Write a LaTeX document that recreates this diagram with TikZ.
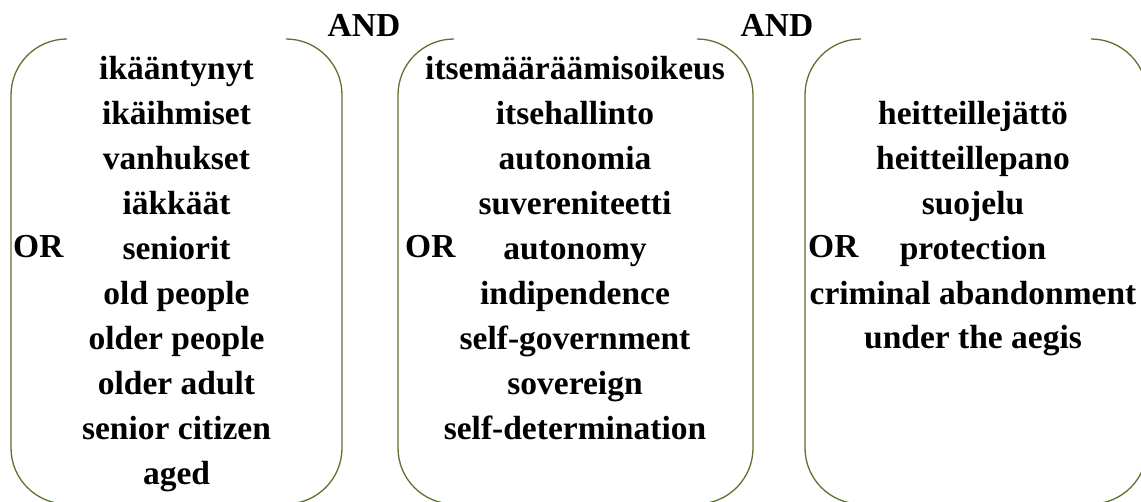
\documentclass[tikz,border=0pt]{standalone}
\usepackage{fontspec}
\setmainfont{Liberation Serif}
\usepackage{xcolor}
\usetikzlibrary{positioning}
\definecolor{bracketgreen}{RGB}{94,116,46}

\begin{document}
\begin{tikzpicture}[x=1pt, y=1pt, font=\bfseries\fontsize{33.5}{40}\selectfont]
        \tikzset{
            term/.style={inner sep=0pt, text height=23pt, text depth=8pt, anchor=base},
            op/.style={inner sep=0pt, anchor=base},
            brk/.style={draw=bracketgreen, line width=1.3pt}
        }
        \useasboundingbox (0,0) rectangle (1141,501);
        \clip (0,0) rectangle (1141,501);

        % Bracket pairs
        \draw[brk] (67,462) arc[start angle=90, end angle=180, radius=56] -- (11,53) arc[start angle=180, end angle=270, radius=56];
        \draw[brk] (286,462) arc[start angle=90, end angle=0, radius=56] -- (342,53) arc[start angle=0, end angle=-90, radius=56];
        \draw[brk] (454,462) arc[start angle=90, end angle=180, radius=56] -- (398,53) arc[start angle=180, end angle=270, radius=56];
        \draw[brk] (697,462) arc[start angle=90, end angle=0, radius=56] -- (753,53) arc[start angle=0, end angle=-90, radius=56];
        \draw[brk] (861,462) arc[start angle=90, end angle=180, radius=56] -- (805,53) arc[start angle=180, end angle=270, radius=56];
        \draw[brk] (1091,462) arc[start angle=90, end angle=0, radius=56] -- (1147,53) arc[start angle=0, end angle=-90, radius=56];

        % Operators
        \node[op] (and1) at (364,464) {AND};
        \node[op] (and2) at (777,464) {AND};
        \node[op, anchor=base west] (or1) at (13,243) {OR};
        \node[op, anchor=base west] (or2) at (405,243) {OR};
        \node[op, anchor=base west] (or3) at (808,243) {OR};

        % Older people
        \node[term] (old1) at (176.5,421) {ikääntynyt};
        \node[term, below=13.5pt of old1] (old2) {ikäihmiset};
        \node[term, below=13.5pt of old2] (old3) {vanhukset};
        \node[term, below=13.5pt of old3] (old4) {iäkkäät};
        \node[term, below=13.5pt of old4] (old5) {seniorit};
        \node[term, below=13.5pt of old5] (old6) {old people};
        \node[term, below=13.5pt of old6] (old7) {older people};
        \node[term, below=13.5pt of old7] (old8) {older adult};
        \node[term, below=13.5pt of old8] (old9) {senior citizen};
        \node[term, below=13.5pt of old9] (old10) {aged};

        % Autonomy
        \node[term] (auto1) at (575,421) {itsemääräämisoikeus};
        \node[term, below=13.5pt of auto1] (auto2) {itsehallinto};
        \node[term, below=13.5pt of auto2] (auto3) {autonomia};
        \node[term, below=13.5pt of auto3] (auto4) {suvereniteetti};
        \node[term, below=13.5pt of auto4] (auto5) {autonomy};
        \node[term, below=13.5pt of auto5] (auto6) {indipendence};
        \node[term, below=13.5pt of auto6] (auto7) {self-government};
        \node[term, below=13.5pt of auto7] (auto8) {sovereign};
        \node[term, below=13.5pt of auto8] (auto9) {self-determination};

        % Abandonment and protection
        \node[term] (aban1) at (973,376.5) {heitteillejättö};
        \node[term, below=13.5pt of aban1] (aban2) {heitteillepano};
        \node[term, below=13.5pt of aban2] (aban3) {suojelu};
        \node[term, below=13.5pt of aban3] (aban4) {protection};
        \node[term, below=13.5pt of aban4] (aban5) {criminal abandonment};
        \node[term, below=13.5pt of aban5] (aban6) {under the aegis};
    \end{tikzpicture}
\end{document}
